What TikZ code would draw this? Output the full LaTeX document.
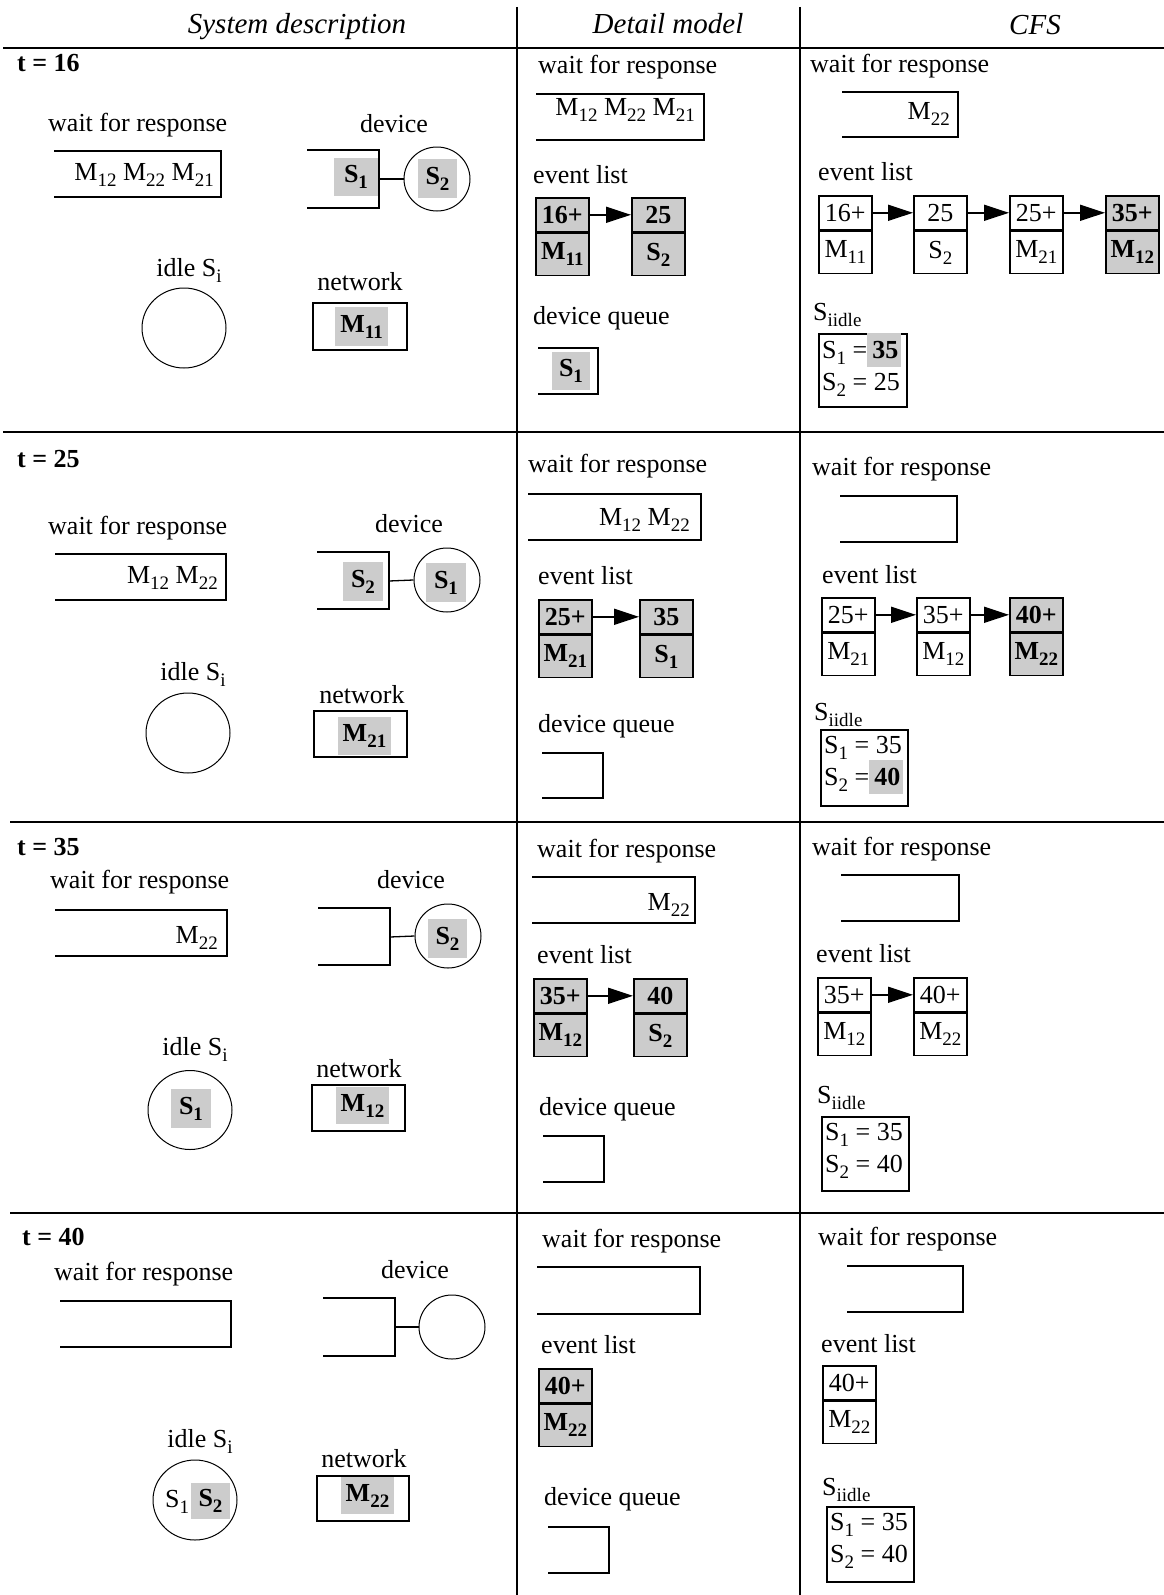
\documentclass[tikz,border=0pt]{standalone}
\usepackage{fontspec}
\setmainfont{Liberation Serif}
\usetikzlibrary{arrows.meta,shapes.geometric}
\definecolor{shade}{RGB}{204,204,204}
\newcommand\rmsize{\fontsize{26}{30}\selectfont}
\newcommand\lo[1]{\raisebox{-6pt}{\fontsize{19}{19}\selectfont #1}}
\newcommand\hl[1]{{\setlength\fboxsep{0pt}\colorbox{shade}{\rule[-9pt]{0pt}{34pt}\hspace{5pt}#1\hspace{3pt}}}}
\newcommand\obox[4]{\draw[boxline] (#1,#3) -| (#2,#4) -- (#1,#4);}
\newcommand\evc[6]{%
  \node[cellt,#6,anchor=north west] (#1t) at (#2,#3) {#4};
  \node[cellb,#6,anchor=north] (#1b) at (#1t.south) {#5};}
\tikzset{
  txt/.style={font=\rmsize, inner sep=0pt},
  bld/.style={font=\rmsize\bfseries, inner sep=0pt},
  hdr/.style={font=\fontsize{29}{33}\selectfont\itshape, inner sep=0pt, anchor=base},
  boxline/.style={line width=1.6pt},
  grid/.style={line width=2pt},
  link/.style={line width=1.3pt},
  cellt/.style={draw, line width=1.6pt, minimum width=53pt, minimum height=34pt, inner sep=0pt, font=\rmsize},
  cellb/.style={cellt, minimum height=42pt},
  plain/.style={},
  hot/.style={fill=shade, font=\rmsize\bfseries},
  shd/.style={fill=shade, inner sep=0pt, font=\rmsize\bfseries},
  ring/.style={draw, ellipse, line width=1pt, inner sep=0pt},
  evarrow/.style={line width=1.6pt, -{Triangle[length=25pt,width=16pt]}},
  netbox/.style={draw, line width=1.6pt, inner sep=0pt},
  sbox/.style={draw, line width=1.6pt, inner sep=0pt, anchor=north west},
}
\begin{document}
\begin{tikzpicture}[x=1pt,y=-1pt]
\useasboundingbox (0,0) rectangle (1164,1595);
\fill[white] (0,0) rectangle (1164,1595);
% grid
\draw[grid] (517,7) -- (517,1595);
\draw[grid] (800,7) -- (800,1595);
\draw[grid] (3,48) -- (1164,48);
\draw[grid] (3,432) -- (1164,432);
\draw[grid] (10,822) -- (1164,822);
\draw[grid] (10,1213) -- (1164,1213);
% headers
\node[hdr] (h1) at (297,34) {System description};
\node[hdr] (h2) at (668,34) {Detail model};
\node[hdr] (h3) at (1035,35) {CFS};

%%%%%%%%%%%%%%%% ROW 1 t=16
\node[bld,anchor=base west] (t1) at (17,71) {t = 16};
\node[txt,anchor=base west] (a1w) at (48,131) {wait for response};
\obox{54}{221}{151}{197}
\node[txt,anchor=base east] (a1wm) at (214,180) {M\lo{12} M\lo{22} M\lo{21}};
\node[txt,anchor=base] (a1d) at (394,132) {device};
\obox{307}{379}{150}{208}
\node[shd,minimum width=44pt,minimum height=38pt] (a1q) at (356,177) {S\lo{1}};
\node[ring,minimum width=66pt,minimum height=64pt] (a1c) at (437,179) {};
\node[shd,minimum width=39pt,minimum height=39pt] (a1cs) at (437.5,178.5) {S\lo{2}};
\coordinate (a1qe) at (379,179);
\draw[link] (a1qe) -- (a1c.west);
\node[txt,anchor=base] (a1i) at (189,276) {idle S\lo{i}};
\node[ring,minimum width=84pt,minimum height=80pt] (a1ic) at (184,328) {};
\node[txt,anchor=base] (a1n) at (360,290) {network};
\node[netbox,minimum width=94pt,minimum height=47pt] (a1nb) at (360,326.5) {};
\node[shd,minimum width=53pt,minimum height=39pt] (a1ns) at (361.5,326.5) {M\lo{11}};

\node[txt,anchor=base west] (b1w) at (538,74) {wait for response};
\obox{536}{704}{94}{140}
\node[txt,anchor=base east] (b1wm) at (695,115) {M\lo{12} M\lo{22} M\lo{21}};
\node[txt,anchor=base west] (b1e) at (533,183) {event list};
\evc{b1x}{535}{197}{16+}{M\lo{11}}{hot}
\evc{b1y}{631}{197}{25}{S\lo{2}}{hot}
\draw[evarrow] (b1xt.east) -- (b1yt.west);
\node[txt,anchor=base west] (b1dq) at (533,324) {device queue};
\obox{538}{598}{348}{394}
\node[shd,minimum width=38pt,minimum height=38pt] (b1qs) at (571,371) {S\lo{1}};

\node[txt,anchor=base west] (c1w) at (810,73) {wait for response};
\obox{842}{958}{92}{137}
\node[txt,anchor=base east] (c1wm) at (950,119) {M\lo{22}};
\node[txt,anchor=base west] (c1e) at (818,180) {event list};
\evc{c1x}{818}{195}{16+}{M\lo{11}}{plain}
\evc{c1y}{913}{195}{25}{S\lo{2}}{plain}
\evc{c1z}{1009}{195}{25+}{M\lo{21}}{plain}
\evc{c1u}{1105}{195}{35+}{M\lo{12}}{hot}
\draw[evarrow] (c1xt.east) -- (c1yt.west);
\draw[evarrow] (c1yt.east) -- (c1zt.west);
\draw[evarrow] (c1zt.east) -- (c1ut.west);
\node[txt,anchor=base west] (c1s) at (813,320) {S\lo{iidle}};
\node[sbox,minimum width=88pt,minimum height=73pt] (c1sb) at (818,333) {};
\node[txt,anchor=base west] (c1s1) at (822,358) {S\lo{1} =\hl{\textbf{35}}};
\node[txt,anchor=base west] (c1s2) at (822,390) {S\lo{2} = 25};

%%%%%%%%%%%%%%%% ROW 2 t=25
\node[bld,anchor=base west] (t2) at (17,467) {t = 25};
\node[txt,anchor=base west] (a2w) at (48,534) {wait for response};
\obox{55}{226}{554}{600}
\node[txt,anchor=base east] (a2wm) at (218,583) {M\lo{12} M\lo{22}};
\node[txt,anchor=base] (a2d) at (409,532) {device};
\obox{317}{389}{552}{609}
\node[shd,minimum width=40pt,minimum height=39pt] (a2q) at (363,581.5) {S\lo{2}};
\node[ring,minimum width=66pt,minimum height=64pt] (a2c) at (447,580) {};
\node[shd,minimum width=40pt,minimum height=39pt] (a2cs) at (446,582.5) {S\lo{1}};
\coordinate (a2qe) at (389,581);
\draw[link] (a2qe) -- (a2c.west);
\node[txt,anchor=base] (a2i) at (193,680) {idle S\lo{i}};
\node[ring,minimum width=84pt,minimum height=80pt] (a2ic) at (188,733) {};
\node[txt,anchor=base] (a2n) at (362,703) {network};
\node[netbox,minimum width=93pt,minimum height=46pt] (a2nb) at (360.5,734) {};
\node[shd,minimum width=53pt,minimum height=38pt] (a2ns) at (364.5,736) {M\lo{21}};

\node[txt,anchor=base west] (b2w) at (528,472) {wait for response};
\obox{528}{701}{494}{540}
\node[txt,anchor=base east] (b2wm) at (690,525) {M\lo{12} M\lo{22}};
\node[txt,anchor=base west] (b2e) at (538,584) {event list};
\evc{b2x}{538}{599}{25+}{M\lo{21}}{hot}
\evc{b2y}{639}{599}{35}{S\lo{1}}{hot}
\draw[evarrow] (b2xt.east) -- (b2yt.west);
\node[txt,anchor=base west] (b2dq) at (538,732) {device queue};
\obox{542}{603}{753}{798}

\node[txt,anchor=base west] (c2w) at (812,475) {wait for response};
\obox{840}{957}{496}{542}
\node[txt,anchor=base west] (c2e) at (822,583) {event list};
\evc{c2x}{821}{597}{25+}{M\lo{21}}{plain}
\evc{c2y}{916}{597}{35+}{M\lo{12}}{plain}
\evc{c2z}{1009}{597}{40+}{M\lo{22}}{hot}
\draw[evarrow] (c2xt.east) -- (c2yt.west);
\draw[evarrow] (c2yt.east) -- (c2zt.west);
\node[txt,anchor=base west] (c2s) at (814,720) {S\lo{iidle}};
\node[sbox,minimum width=87pt,minimum height=76pt] (c2sb) at (820,729) {};
\node[txt,anchor=base west] (c2s1) at (824,753) {S\lo{1} = 35};
\node[txt,anchor=base west] (c2s2) at (824,785) {S\lo{2} =\hl{\textbf{40}}};

%%%%%%%%%%%%%%%% ROW 3 t=35
\node[bld,anchor=base west] (t3) at (17,855) {t = 35};
\node[txt,anchor=base west] (a3w) at (50,888) {wait for response};
\obox{55}{227}{910}{956}
\node[txt,anchor=base east] (a3wm) at (218,943) {M\lo{22}};
\node[txt,anchor=base] (a3d) at (411,888) {device};
\obox{318}{390}{908}{965}
\node[ring,minimum width=66pt,minimum height=64pt] (a3c) at (448,936) {};
\node[shd,minimum width=39pt,minimum height=39pt] (a3cs) at (447.5,938.5) {S\lo{2}};
\coordinate (a3qe) at (390,937);
\draw[link] (a3qe) -- (a3c.west);
\node[txt,anchor=base] (a3i) at (195,1055) {idle S\lo{i}};
\node[ring,minimum width=84pt,minimum height=79pt] (a3ic) at (190,1110) {};
\node[shd,minimum width=40pt,minimum height=39pt] (a3is) at (191,1108.5) {S\lo{1}};
\node[txt,anchor=base] (a3n) at (359,1077) {network};
\node[netbox,minimum width=93pt,minimum height=46pt] (a3nb) at (358.5,1108) {};
\node[shd,minimum width=53pt,minimum height=37pt] (a3ns) at (362.5,1105.5) {M\lo{12}};

\node[txt,anchor=base west] (b3w) at (537,857) {wait for response};
\obox{532}{695}{877}{923}
\node[txt,anchor=base east] (b3wm) at (690,910) {M\lo{22}};
\node[txt,anchor=base west] (b3e) at (537,963) {event list};
\evc{b3x}{533}{978}{35+}{M\lo{12}}{hot}
\evc{b3y}{633}{978}{40}{S\lo{2}}{hot}
\draw[evarrow] (b3xt.east) -- (b3yt.west);
\node[txt,anchor=base west] (b3dq) at (539,1115) {device queue};
\obox{543}{604}{1136}{1182}

\node[txt,anchor=base west] (c3w) at (812,855) {wait for response};
\obox{841}{959}{875}{921}
\node[txt,anchor=base west] (c3e) at (816,962) {event list};
\evc{c3x}{817}{977}{35+}{M\lo{12}}{plain}
\evc{c3y}{913}{977}{40+}{M\lo{22}}{plain}
\draw[evarrow] (c3xt.east) -- (c3yt.west);
\node[txt,anchor=base west] (c3s) at (817,1103) {S\lo{iidle}};
\node[sbox,minimum width=87pt,minimum height=74pt] (c3sb) at (821,1116) {};
\node[txt,anchor=base west] (c3s1) at (825,1140) {S\lo{1} = 35};
\node[txt,anchor=base west] (c3s2) at (825,1172) {S\lo{2} = 40};

%%%%%%%%%%%%%%%% ROW 4 t=40
\node[bld,anchor=base west] (t4) at (22,1245) {t = 40};
\node[txt,anchor=base west] (a4w) at (54,1280) {wait for response};
\obox{60}{231}{1301}{1347}
\node[txt,anchor=base] (a4d) at (415,1278) {device};
\obox{323}{395}{1298}{1356}
\node[ring,minimum width=66pt,minimum height=64pt] (a4c) at (452,1327) {};
\coordinate (a4qe) at (395,1327);
\draw[link] (a4qe) -- (a4c.west);
\node[txt,anchor=base] (a4i) at (200,1447) {idle S\lo{i}};
\node[ring,minimum width=84pt,minimum height=80pt] (a4ic) at (195,1500) {};
\node[txt,anchor=base west] (a4is1) at (165,1507) {S\lo{1}};
\node[shd,minimum width=39pt,minimum height=36pt] (a4is2) at (210.5,1501) {S\lo{2}};
\node[txt,anchor=base] (a4n) at (364,1467) {network};
\node[netbox,minimum width=92pt,minimum height=45pt] (a4nb) at (363,1498.5) {};
\node[shd,minimum width=53pt,minimum height=37pt] (a4ns) at (367.5,1495.5) {M\lo{22}};

\node[txt,anchor=base west] (b4w) at (542,1247) {wait for response};
\obox{537}{700}{1267}{1314}
\node[txt,anchor=base west] (b4e) at (541,1353) {event list};
\evc{b4x}{538}{1368}{40+}{M\lo{22}}{hot}
\node[txt,anchor=base west] (b4dq) at (544,1505) {device queue};
\obox{548}{609}{1527}{1573}

\node[txt,anchor=base west] (c4w) at (818,1245) {wait for response};
\obox{847}{963}{1266}{1312}
\node[txt,anchor=base west] (c4e) at (821,1352) {event list};
\evc{c4x}{822}{1365}{40+}{M\lo{22}}{plain}
\node[txt,anchor=base west] (c4s) at (822,1495) {S\lo{iidle}};
\node[sbox,minimum width=87pt,minimum height=75pt] (c4sb) at (826,1506) {};
\node[txt,anchor=base west] (c4s1) at (830,1530) {S\lo{1} = 35};
\node[txt,anchor=base west] (c4s2) at (830,1562) {S\lo{2} = 40};
\end{tikzpicture}
\end{document}
